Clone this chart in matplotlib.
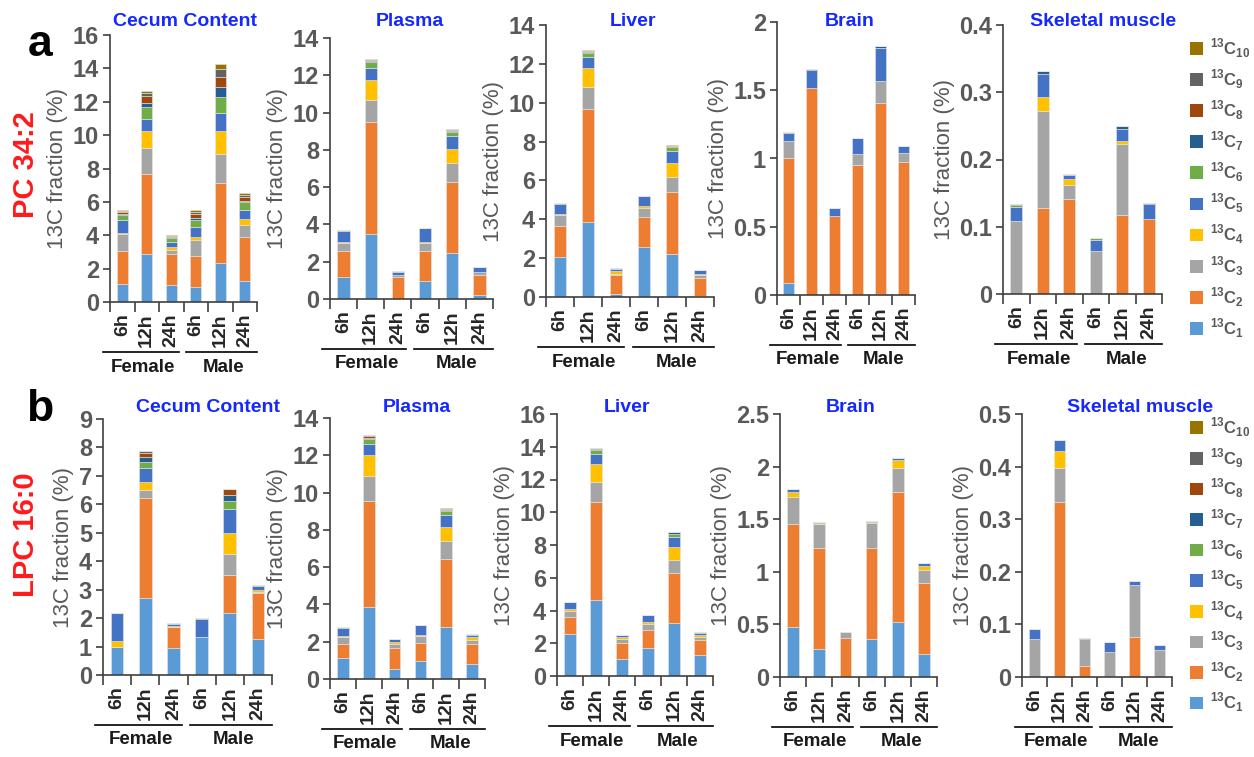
import matplotlib
matplotlib.use('Agg')
import matplotlib.pyplot as plt
from matplotlib.patches import Patch
from matplotlib import transforms as mtransforms
import numpy as np

plt.rcParams['font.family'] = ['Liberation Sans', 'DejaVu Sans']
plt.rcParams['mathtext.fontset'] = 'custom'
plt.rcParams['mathtext.rm'] = 'Liberation Sans'
plt.rcParams['mathtext.bf'] = 'Liberation Sans:bold'

times = ['6h', '12h', '24h', '6h', '12h', '24h']
sexes = ['Female', 'Male']
tissues = ['Cecum Content', 'Plasma', 'Liver', 'Brain', 'Skeletal muscle']
labels = [r'$^{\mathbf{13}}\mathbf{C}_{\mathbf{%d}}$' % i for i in range(1, 11)]
colors = ['#5B9BD5', '#ED7D31', '#A5A5A5', '#FFC000', '#4472C4',
          '#70AD47', '#255E91', '#9E480E', '#636363', '#997300']
z6 = [0, 0, 0, 0, 0, 0]

# rows = 13C1 ... 13C10, columns = F 6h, F 12h, F 24h, M 6h, M 12h, M 24h
pc_cecum = [[1.06, 2.90, 1.00, 0.90, 2.34, 1.26],
            [1.98, 4.78, 1.85, 1.84, 4.78, 2.62],
            [1.06, 1.56, 0.25, 0.96, 1.76, 0.76],
            [0.02, 1.00, 0.20, 0.20, 1.38, 0.32],
            [0.78, 0.74, 0.30, 0.60, 1.04, 0.54],
            [0.30, 0.72, 0.25, 0.44, 0.98, 0.50],
            [0.05, 0.24, 0.07, 0.11, 0.60, 0.08],
            [0.15, 0.40, 0.04, 0.20, 0.62, 0.22],
            [0.05, 0.20, 0.02, 0.15, 0.48, 0.12],
            [0.05, 0.10, 0.04, 0.10, 0.26, 0.10]]
pc_plasma = [[1.20, 3.50, 0.00, 0.97, 2.45, 0.22],
             [1.35, 6.00, 1.20, 1.60, 3.85, 1.08],
             [0.45, 1.20, 0.08, 0.45, 1.00, 0.15],
             [0.07, 1.05, 0.02, 0.03, 0.75, 0.02],
             [0.60, 0.65, 0.17, 0.75, 0.67, 0.23],
             [0.02, 0.30, 0.03, 0.02, 0.23, 0.01],
             [0.00, 0.08, 0.00, 0.00, 0.07, 0.00],
             [0.00, 0.05, 0.00, 0.00, 0.04, 0.00],
             [0.00, 0.04, 0.00, 0.00, 0.04, 0.00],
             [0.00, 0.02, 0.00, 0.00, 0.02, 0.00]]
pc_liver = [[2.04, 3.86, 0.14, 2.57, 2.23, 0.07],
            [1.63, 5.83, 0.97, 1.53, 3.19, 0.89],
            [0.53, 1.10, 0.06, 0.50, 0.74, 0.15],
            [0.09, 0.99, 0.17, 0.08, 0.72, 0.09],
            [0.51, 0.57, 0.12, 0.52, 0.65, 0.19],
            [0.02, 0.20, 0.02, 0.02, 0.17, 0.01],
            [0.00, 0.07, 0.00, 0.00, 0.04, 0.00],
            [0.00, 0.04, 0.00, 0.00, 0.02, 0.00],
            [0.00, 0.02, 0.00, 0.00, 0.02, 0.00],
            [0.00, 0.02, 0.00, 0.00, 0.02, 0.00]]
pc_brain = [[0.085, 0.0, 0.0, 0.0, 0.01, 0.0],
            [0.922, 1.52, 0.58, 0.956, 1.395, 0.973],
            [0.12, 0.0, 0.0, 0.074, 0.161, 0.064],
            [0.003, 0.0, 0.0, 0.0, 0.0, 0.0],
            [0.06, 0.126, 0.054, 0.119, 0.241, 0.058],
            [0.005, 0.0, 0.0, 0.0, 0.0, 0.0],
            [0.0, 0.01, 0.0, 0.0, 0.02, 0.0],
            z6, z6, z6]
pc_muscle = [z6,
             [0.0, 0.1285, 0.1414, 0.0, 0.118, 0.111],
             [0.108, 0.143, 0.0212, 0.0633, 0.1054, 0.0],
             [0.0, 0.0216, 0.0089, 0.0, 0.0046, 0.0],
             [0.022, 0.0347, 0.005, 0.0163, 0.018, 0.0235],
             [0.0025, 0.0, 0.0025, 0.0044, 0.0, 0.0],
             [0.0015, 0.004, 0.0, 0.0, 0.004, 0.0015],
             z6, z6, z6]

lpc_cecum = [[1.00, 2.72, 0.95, 1.35, 2.17, 1.25],
             [0.00, 3.52, 0.74, 0.00, 1.35, 1.65],
             [0.00, 0.27, 0.01, 0.00, 0.74, 0.01],
             [0.20, 0.26, 0.02, 0.00, 0.73, 0.07],
             [0.97, 0.52, 0.08, 0.63, 0.83, 0.15],
             [0.00, 0.21, 0.02, 0.02, 0.29, 0.02],
             [0.00, 0.16, 0.00, 0.00, 0.21, 0.00],
             [0.00, 0.14, 0.00, 0.00, 0.22, 0.00],
             [0.00, 0.06, 0.00, 0.00, 0.00, 0.00],
             [0.00, 0.02, 0.00, 0.00, 0.00, 0.00]]
lpc_plasma = [[1.10, 3.87, 0.52, 0.94, 2.80, 0.82],
              [0.79, 5.68, 1.14, 1.00, 3.62, 1.07],
              [0.37, 1.32, 0.21, 0.34, 0.96, 0.18],
              [0.07, 1.13, 0.14, 0.09, 0.78, 0.18],
              [0.43, 0.62, 0.13, 0.52, 0.63, 0.12],
              [0.02, 0.23, 0.02, 0.02, 0.23, 0.02],
              [0.00, 0.09, 0.00, 0.00, 0.06, 0.00],
              [0.00, 0.09, 0.00, 0.00, 0.04, 0.00],
              [0.00, 0.05, 0.00, 0.00, 0.02, 0.00],
              [0.00, 0.02, 0.00, 0.00, 0.01, 0.00]]
lpc_liver = [[2.58, 4.65, 1.06, 1.69, 3.23, 1.26],
             [1.00, 5.96, 0.97, 1.11, 3.07, 0.94],
             [0.38, 1.22, 0.21, 0.37, 0.81, 0.20],
             [0.11, 1.14, 0.14, 0.10, 0.76, 0.10],
             [0.42, 0.61, 0.12, 0.45, 0.63, 0.14],
             [0.02, 0.20, 0.02, 0.02, 0.20, 0.02],
             [0.00, 0.08, 0.00, 0.00, 0.07, 0.00],
             [0.00, 0.04, 0.00, 0.00, 0.03, 0.00],
             [0.00, 0.02, 0.00, 0.00, 0.02, 0.00],
             z6]
lpc_brain = [[0.475, 0.266, 0.0, 0.358, 0.519, 0.218],
             [0.981, 0.956, 0.367, 0.867, 1.241, 0.671],
             [0.253, 0.231, 0.057, 0.243, 0.227, 0.127],
             [0.051, 0.012, 0.0, 0.004, 0.076, 0.041],
             [0.028, 0.007, 0.006, 0.012, 0.022, 0.022],
             z6, z6, z6, z6, z6]
lpc_muscle = [z6,
              [0.0, 0.333, 0.0216, 0.0, 0.0755, 0.0],
              [0.0717, 0.065, 0.05, 0.0482, 0.1, 0.0508],
              [0.0, 0.032, 0.0, 0.0, 0.0, 0.0],
              [0.019, 0.02, 0.0032, 0.019, 0.007, 0.0095],
              z6, z6, z6, z6, z6]

W, H = 1254, 757
fig = plt.figure(figsize=(W / 100, H / 100), dpi=100)

# (data, ymax, ystep, [left, top, right, bottom] in px, title x in axes fraction)
panels_a = [(pc_cecum, 16, 2, [110, 35, 257, 302], 0.51),
            (pc_plasma, 14, 2, [330, 38, 493, 299], 0.49),
            (pc_liver, 14, 2, [546, 25, 714, 297], 0.52),
            (pc_brain, 2, 0.5, [777, 22, 915, 295], 0.53),
            (pc_muscle, 0.4, 0.1, [1003, 25, 1162, 294], 0.63)]
panels_b = [(lpc_cecum, 9, 1, [103, 419, 272, 675], 0.62),
            (lpc_plasma, 14, 2, [330, 418, 485, 679], 0.56),
            (lpc_liver, 16, 2, [557, 414, 713, 676], 0.45),
            (lpc_brain, 2.5, 0.5, [780, 414, 937, 677], 0.45),
            (lpc_muscle, 0.5, 0.1, [1022, 414, 1172, 677], 0.79)]

gray = '#595959'


def draw(data, ymax, ystep, box, title, tx, title_y):
    l, t, r, b = box
    ax = fig.add_axes([l / W, 1 - b / H, (r - l) / W, (b - t) / H])
    x = np.arange(len(times))
    bottom = np.zeros(len(times))
    for vals, c in zip(data, colors):
        vals = np.array(vals, dtype=float)
        ax.bar(x, vals, 0.45, bottom=bottom, color=c, edgecolor='#e6e6e6', linewidth=0.4)
        bottom += vals
    ax.set_xlim(-0.5, 5.5)
    ax.set_ylim(0, ymax)
    yt = np.arange(0, ymax + ystep / 2, ystep)
    ax.set_yticks(yt)
    ax.set_yticklabels(['{:g}'.format(round(v, 2)) for v in yt],
                       fontweight='bold', fontsize=17, color=gray)
    ax.set_xticks(x)
    ax.set_xticklabels(times, rotation=90, fontweight='bold', fontsize=14, color='#262626')
    ax.set_xticks(np.arange(-0.5, 6, 1), minor=True)
    ax.tick_params(axis='x', which='major', length=0, pad=8)
    ax.tick_params(axis='x', which='minor', length=7, width=1.2, color='#404040')
    ax.tick_params(axis='y', length=5, width=1.2, color='#404040', pad=3)
    for s in ['top', 'right']:
        ax.spines[s].set_visible(False)
    for s in ['left', 'bottom']:
        ax.spines[s].set_color('#404040')
        ax.spines[s].set_linewidth(1.2)
    ax.set_ylabel('13C fraction (%)', fontsize=16, color=gray, labelpad=3)
    trans = mtransforms.blended_transform_factory(ax.transAxes, fig.transFigure)
    ax.text(tx, title_y, title, transform=trans, ha='center', va='center',
            color='#1428ff', fontweight='bold', fontsize=14)
    # group labels under the time points
    line_tr = mtransforms.offset_copy(ax.get_xaxis_transform(), fig=fig, y=-50, units='dots')
    text_tr = mtransforms.offset_copy(ax.get_xaxis_transform(), fig=fig, y=-65, units='dots')
    for (x0, x1), sex in zip([(-0.8, 2.3), (2.6, 5.5)], sexes):
        ax.plot([x0, x1], [0, 0], color='black', lw=1.2, transform=line_tr, clip_on=False)
        ax.text((x0 + x1) / 2 + 0.1, 0, sex, transform=text_tr, ha='center', va='center',
                fontweight='bold', fontsize=13.5, color='#1a1a1a')
    return ax


for (data, ymax, ystep, box, tx), title in zip(panels_a, tissues):
    draw(data, ymax, ystep, box, title, tx, 1 - 22 / H)
for (data, ymax, ystep, box, tx), title in zip(panels_b, tissues):
    draw(data, ymax, ystep, box, title, tx, 1 - 407 / H)

fig.text(40 / W, 1 - 45 / H, 'a', fontsize=32, fontweight='bold', ha='center', va='center')
fig.text(40 / W, 1 - 410 / H, 'b', fontsize=32, fontweight='bold', ha='center', va='center')
fig.text(26 / W, 1 - 165 / H, 'PC 34:2', fontsize=21, fontweight='bold', color='#ff1a1a',
         rotation=90, ha='center', va='center')
fig.text(26 / W, 1 - 535 / H, 'LPC 16:0', fontsize=21, fontweight='bold', color='#ff1a1a',
         rotation=90, ha='center', va='center')

handles = [Patch(facecolor=c) for c in colors][::-1]
for yc, sp in [(188, 0.45), (565, 0.42)]:
    fig.legend(handles, labels[::-1], loc='center left', bbox_to_anchor=(1190 / W, 1 - yc / H),
               frameon=False, fontsize=12, labelcolor=gray, handlelength=0.8, handleheight=0.8,
               handletextpad=0.4, labelspacing=sp, borderpad=0, borderaxespad=0)

fig.savefig('out.png', dpi=100)
